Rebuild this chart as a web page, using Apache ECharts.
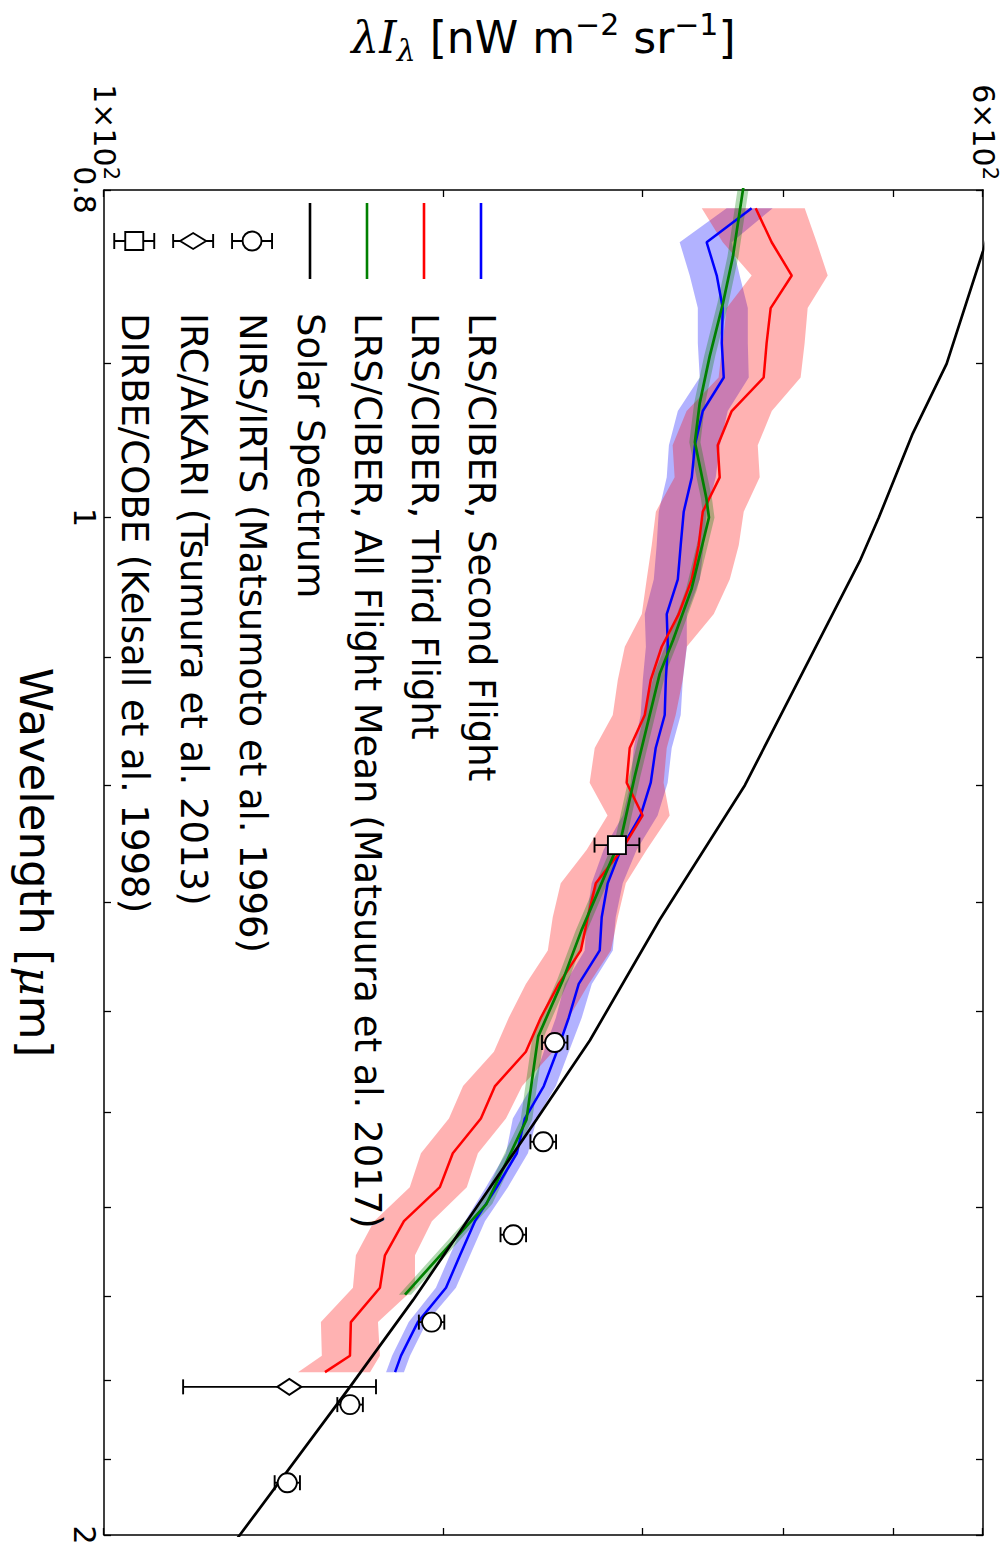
<!DOCTYPE html>
<html>
<head>
<meta charset="utf-8">
<script src="https://cdn.jsdelivr.net/npm/echarts@6/dist/echarts.min.js"></script>
<style>
  html, body { margin: 0; padding: 0; background: #fff; width: 1008px; height: 1545px; overflow: hidden; }
  /* the plot is laid out landscape and turned a quarter turn clockwise */
  #chart { position: absolute; left: 0; top: 0; width: 1545px; height: 1008px;
           transform-origin: 0 0; transform: translate(1008px, 0) rotate(90deg); }
</style>
</head>
<body>
<div id="chart"></div>
<script>
// ---- axes ----
const wavelengthTicks = [0.8, 0.9, 1.0, 1.1, 1.2, 1.3, 1.4, 1.5, 1.6, 1.7, 1.8, 1.9, 2.0];
const wavelengthTickLabels = [0.8, 1, 2];
const intensityTicks = [100, 200, 300, 400, 500, 600];
const intensityTickLabels = [100, 600];

// ---- LRS/CIBER spectra (um, nW m^-2 sr^-1) ----
const lrsWavelength = [0.810, 0.829, 0.848, 0.867, 0.888, 0.909, 0.930, 0.952, 0.973, 0.996,
  1.019, 1.043, 1.068, 1.092, 1.117, 1.144, 1.170, 1.198, 1.225, 1.254,
  1.283, 1.313, 1.343, 1.374, 1.406, 1.439, 1.473, 1.506, 1.542, 1.578,
  1.615, 1.653, 1.690, 1.730, 1.770, 1.790];

const secondFlight = [374.4, 341.6, 348.7, 353.0, 352.3, 353.7, 338.9, 333.5, 331.4, 326.0,
  324.0, 322.1, 314.9, 315.6, 314.3, 313.6, 307.9, 304.8, 298.6, 286.7,
  279.2, 275.8, 274.7, 263.2, 257.9, 251.7, 245.1, 235.8, 232.0, 222.7,
  213.0, 206.6, 200.8, 189.6, 183.2, 181.0];
const secondFlightLow = [355.8, 323.3, 330.0, 335.5, 335.5, 336.8, 322.1, 316.3, 314.9, 309.8,
  308.5, 306.7, 301.1, 301.8, 299.9, 298.6, 294.4, 292.6, 287.9, 276.9,
  270.2, 267.5, 266.4, 255.8, 251.2, 245.1, 239.2, 230.1, 226.9, 217.8,
  208.7, 202.4, 196.7, 186.1, 179.9, 177.7];
const secondFlightHigh = [390.8, 359.5, 365.4, 371.5, 371.5, 372.2, 356.6, 350.9, 348.0, 341.6,
  339.6, 336.9, 328.0, 328.1, 325.4, 324.0, 318.1, 315.5, 309.1, 296.2,
  287.9, 283.8, 282.1, 270.3, 264.8, 257.9, 251.2, 241.6, 237.3, 227.8,
  217.4, 210.9, 204.9, 193.1, 186.6, 184.3];

const thirdFlight = [377.5, 390.0, 406.3, 389.2, 386.0, 383.7, 359.5, 349.4, 350.8, 338.9,
  336.1, 331.4, 322.7, 311.7, 304.8, 301.1, 292.0, 290.2, 299.8, 287.3,
  272.5, 268.1, 264.3, 252.7, 243.6, 236.3, 221.9, 215.6, 203.6, 198.3,
  184.3, 177.3, 175.5, 165.4, 165.1, 156.9];
const thirdFlightLow = [338.2, 353.0, 374.4, 355.8, 352.9, 350.0, 327.9, 318.7, 320.0, 308.0,
  305.4, 302.3, 299.3, 289.1, 285.0, 282.1, 271.9, 269.1, 279.1, 267.5,
  253.7, 249.6, 247.1, 236.3, 228.2, 221.4, 207.9, 202.0, 190.8, 186.5,
  173.4, 167.1, 166.1, 155.6, 155.9, 148.5];
const thirdFlightHigh = [417.2, 427.5, 437.2, 419.7, 417.1, 413.7, 390.1, 379.1, 380.6, 368.4,
  364.7, 358.1, 346.6, 328.0, 325.3, 320.7, 314.9, 312.9, 316.8, 302.3,
  289.7, 285.0, 281.0, 268.6, 257.9, 249.7, 234.5, 226.9, 214.3, 209.5,
  195.1, 188.5, 188.5, 174.8, 175.5, 172.0];

const meanWavelength = [0.790, 0.837, 0.864, 0.896, 0.925, 0.950, 0.987, 1.000, 1.050, 1.087,
  1.112, 1.193, 1.243, 1.325, 1.370, 1.424, 1.507, 1.596, 1.698];
const allFlightMean = [369.9, 360.4, 353.2, 343.7, 336.8, 333.5, 341.4, 343.2, 331.2, 319.0,
  310.5, 295.0, 287.1, 264.6, 254.9, 242.3, 236.6, 218.1, 184.7];
const allFlightMeanLow = [365.8, 356.4, 349.2, 339.8, 333.0, 329.7, 337.6, 339.3, 327.5, 315.4,
  307.0, 291.6, 283.8, 261.5, 251.9, 239.5, 233.8, 215.5, 182.4];
const allFlightMeanHigh = [374.1, 364.5, 357.2, 347.6, 340.6, 337.3, 345.3, 347.1, 335.0, 322.7,
  314.1, 298.4, 290.4, 267.7, 257.9, 245.2, 239.4, 220.7, 187.0];

// ---- solar spectrum ----
const solarWavelength = [0.800, 0.834, 0.9005, 0.9444, 1.000, 1.030, 1.200, 1.315, 1.428, 1.507, 1.704, 1.808, 2.000, 2.050];
const solarSpectrum = [623.5, 600.0, 557.2, 519.9, 485.2, 466.8, 369.3, 310.5, 269.2, 241.5, 187.8, 165.1, 131.9, 124.9];

// ---- photometric measurements ----
const nirsWavelength = [1.43, 1.53, 1.63, 1.73, 1.83, 1.93];
const nirsValue = [250.6, 244.8, 230.3, 195.0, 165.1, 145.3];
const nirsLow = [244.2, 238.5, 224.4, 190.0, 160.9, 141.6];
const nirsHigh = [257.2, 251.3, 236.4, 200.1, 169.5, 149.1];

const ircWavelength = [1.808];
const ircValue = [145.9];
const ircLow = [117.5];
const ircHigh = [174.1];

const dirbeWavelength = [1.25];
const dirbeValue = [284.5];
const dirbeLow = [271.8];
const dirbeHigh = [297.8];

// ---- names ----
const NAME_SECOND = 'LRS/CIBER, Second Flight';
const NAME_THIRD = 'LRS/CIBER, Third Flight';
const NAME_MEAN = 'LRS/CIBER, All Flight Mean (Matsuura et al. 2017)';
const NAME_SOLAR = 'Solar Spectrum';
const NAME_NIRS = 'NIRS/IRTS (Matsumoto et al. 1996)';
const NAME_IRC = 'IRC/AKARI (Tsumura et al. 2013)';
const NAME_DIRBE = 'DIRBE/COBE (Kelsall et al. 1998)';

const FONT = 'DejaVu Sans';
const pairs = (xs, ys) => xs.map((x, i) => [x, ys[i]]);

function lineSeries(name, xs, ys, color, width, z) {
  return {
    type: 'line', name, data: pairs(xs, ys), symbol: 'none', showSymbol: false,
    lineStyle: { color, width }, itemStyle: { color }, z, clip: true, silent: true
  };
}

// translucent band between a lower and upper curve
function bandSeries(id, xs, lo, hi, fill) {
  const rows = xs.map((x, i) => [x, lo[i], hi[i]]);
  return {
    type: 'custom', id, clip: true, silent: true, z: 1,
    data: rows, encode: { x: 0, y: [1, 2] },
    renderItem(params, api) {
      if (params.dataIndex !== 0) return;
      const upper = rows.map(r => api.coord([r[0], r[2]]));
      const lower = rows.map(r => api.coord([r[0], r[1]])).reverse();
      return { type: 'polygon', shape: { points: upper.concat(lower) }, style: { fill } };
    }
  };
}

// open markers with vertical error bars
function markerSeries(name, xs, ys, lo, hi, shape) {
  const rows = xs.map((x, i) => [x, ys[i], lo[i], hi[i]]);
  return {
    type: 'custom', name, silent: true, z: 6, clip: false,
    data: rows, encode: { x: 0, y: [1, 2, 3] },
    renderItem(params, api) {
      const c = api.coord([api.value(0), api.value(1)]);
      const a = api.coord([api.value(0), api.value(2)]);
      const b = api.coord([api.value(0), api.value(3)]);
      const cap = 7.5;
      const ls = { stroke: '#000', lineWidth: 1.9, fill: null };
      const ms = { stroke: '#000', lineWidth: 1.9, fill: '#fff' };
      let marker;
      if (shape === 'circle') {
        marker = { type: 'circle', shape: { cx: c[0], cy: c[1], r: 9.5 }, style: ms };
      } else if (shape === 'square') {
        marker = { type: 'rect', shape: { x: c[0] - 9, y: c[1] - 9, width: 18, height: 18 }, style: ms };
      } else {
        marker = { type: 'polygon', shape: { points: [[c[0], c[1] - 12], [c[0] + 8, c[1]], [c[0], c[1] + 12], [c[0] - 8, c[1]]] }, style: ms };
      }
      return {
        type: 'group', children: [
          { type: 'line', shape: { x1: c[0], y1: a[1], x2: c[0], y2: b[1] }, style: ls },
          { type: 'line', shape: { x1: c[0] - cap, y1: a[1], x2: c[0] + cap, y2: a[1] }, style: ls },
          { type: 'line', shape: { x1: c[0] - cap, y1: b[1], x2: c[0] + cap, y2: b[1] }, style: ls },
          marker
        ]
      };
    }
  };
}

const ICON_LINE = 'path://M0 0L76 0L76 2.6L0 2.6Z';
const ICON_CIRCLE = 'path://M1 0L17 0M9 0L9 10.5M1 40L17 40M9 29.5L9 40M18.5 20A9.5 9.5 0 1 1 -0.5 20A9.5 9.5 0 1 1 18.5 20Z';
const ICON_DIAMOND = 'path://M2 0L16 0M9 0L9 7M2 40L16 40M9 33L9 40M9 7L17 20L9 33L1 20Z';
const ICON_SQUARE = 'path://M1 0L17 0M9 0L9 11M1 40L17 40M9 29L9 40M0 11L18 11L18 29L0 29Z';

const tickStyle = { color: '#000', width: 1.3 };
const axisLineStyle = { color: '#000', width: 1.5 };

function wavelengthAxis(position, withLabels) {
  return {
    type: 'log', logBase: 10, min: 0.8, max: 2, position,
    splitLine: { show: false },
    axisLine: { show: true, onZero: false, lineStyle: axisLineStyle },
    axisTick: { show: true, inside: true, length: 7, customValues: wavelengthTicks, lineStyle: tickStyle },
    axisLabel: {
      show: withLabels, customValues: wavelengthTickLabels, margin: 5,
      fontFamily: FONT, fontSize: 30, color: '#000',
      formatter: v => String(Math.round(v * 10) / 10)
    },
    name: withLabels ? '{n|Wavelength [}{m|μ}{n|m]}' : '',
    nameLocation: 'middle', nameGap: 46,
    nameTextStyle: {
      color: '#000', fontFamily: FONT, fontSize: 45,
      rich: {
        n: { fontFamily: FONT, fontSize: 45, color: '#000' },
        m: { fontFamily: 'DejaVu Serif', fontStyle: 'italic', fontSize: 45, color: '#000' }
      }
    }
  };
}

function intensityAxis(position, withLabels) {
  return {
    type: 'log', logBase: 10, min: 100, max: 600, position,
    splitLine: { show: false },
    axisLine: { show: true, onZero: false, lineStyle: axisLineStyle },
    axisTick: { show: true, inside: true, length: 7, customValues: intensityTicks, lineStyle: tickStyle },
    axisLabel: {
      show: withLabels, customValues: intensityTickLabels, margin: 10,
      color: '#000',
      formatter: v => {
        const e = Math.floor(Math.log10(v) + 1e-9);
        const m = Math.round(v / Math.pow(10, e));
        return '{a|' + m + '×10}{b|' + e + '}';
      },
      rich: {
        a: { fontFamily: FONT, fontSize: 30, lineHeight: 34, color: '#000' },
        b: { fontFamily: FONT, fontSize: 21, lineHeight: 21, verticalAlign: 'top', color: '#000' }
      }
    },
    name: withLabels ? '{i|λI}{s|λ}{n| [nW m}{p|−2}{n| sr}{p|−1}{n|]}' : '',
    nameLocation: 'middle', nameGap: 125, nameRotate: 90,
    nameTextStyle: {
      color: '#000', fontFamily: FONT, fontSize: 44,
      rich: {
        i: { fontFamily: 'DejaVu Serif', fontStyle: 'italic', fontSize: 44, lineHeight: 56, color: '#000' },
        s: { fontFamily: 'DejaVu Serif', fontStyle: 'italic', fontSize: 30, lineHeight: 34, verticalAlign: 'bottom', color: '#000' },
        n: { fontFamily: FONT, fontSize: 44, lineHeight: 56, color: '#000' },
        p: { fontFamily: FONT, fontSize: 30, lineHeight: 30, verticalAlign: 'top', color: '#000' }
      }
    }
  };
}

const option = {
  animation: false,
  backgroundColor: '#fff',
  textStyle: { fontFamily: FONT },
  grid: { left: 190, right: 10, top: 25, bottom: 104, containLabel: false, outerBoundsMode: 'none' },
  xAxis: [wavelengthAxis('bottom', true), wavelengthAxis('top', false)],
  yAxis: [intensityAxis('left', true), intensityAxis('right', false)],
  legend: {
    orient: 'vertical', left: 203, top: 507, padding: 0,
    itemWidth: 76, itemHeight: 40, itemGap: 17,
    selectedMode: false,
    textStyle: { fontFamily: FONT, fontSize: 37, lineHeight: 40, color: '#000', padding: [0, 0, 0, 29] },
    data: [
      { name: NAME_SECOND, icon: ICON_LINE, itemStyle: { color: '#0000ff', borderWidth: 0 } },
      { name: NAME_THIRD, icon: ICON_LINE, itemStyle: { color: '#ff0000', borderWidth: 0 } },
      { name: NAME_MEAN, icon: ICON_LINE, itemStyle: { color: '#008000', borderWidth: 0 } },
      { name: NAME_SOLAR, icon: ICON_LINE, itemStyle: { color: '#000000', borderWidth: 0 } },
      { name: NAME_NIRS, icon: ICON_CIRCLE, itemStyle: { color: '#fff', borderColor: '#000', borderWidth: 1.9 } },
      { name: NAME_IRC, icon: ICON_DIAMOND, itemStyle: { color: '#fff', borderColor: '#000', borderWidth: 1.9 } },
      { name: NAME_DIRBE, icon: ICON_SQUARE, itemStyle: { color: '#fff', borderColor: '#000', borderWidth: 1.9 } }
    ]
  },
  series: [
    bandSeries('band-second', lrsWavelength, secondFlightLow, secondFlightHigh, 'rgba(0,0,255,0.3)'),
    bandSeries('band-third', lrsWavelength, thirdFlightLow, thirdFlightHigh, 'rgba(255,0,0,0.3)'),
    bandSeries('band-mean', meanWavelength, allFlightMeanLow, allFlightMeanHigh, 'rgba(0,128,0,0.3)'),
    lineSeries(NAME_SECOND, lrsWavelength, secondFlight, '#0000ff', 2.5, 3),
    lineSeries(NAME_THIRD, lrsWavelength, thirdFlight, '#ff0000', 2.5, 3),
    lineSeries(NAME_MEAN, meanWavelength, allFlightMean, '#008000', 2.7, 4),
    lineSeries(NAME_SOLAR, solarWavelength, solarSpectrum, '#000000', 2.7, 5),
    markerSeries(NAME_NIRS, nirsWavelength, nirsValue, nirsLow, nirsHigh, 'circle'),
    markerSeries(NAME_IRC, ircWavelength, ircValue, ircLow, ircHigh, 'diamond'),
    markerSeries(NAME_DIRBE, dirbeWavelength, dirbeValue, dirbeLow, dirbeHigh, 'square')
  ]
};

const chart = echarts.init(document.getElementById('chart'), null, { renderer: 'svg' });
chart.setOption(option);
</script>
</body>
</html>
